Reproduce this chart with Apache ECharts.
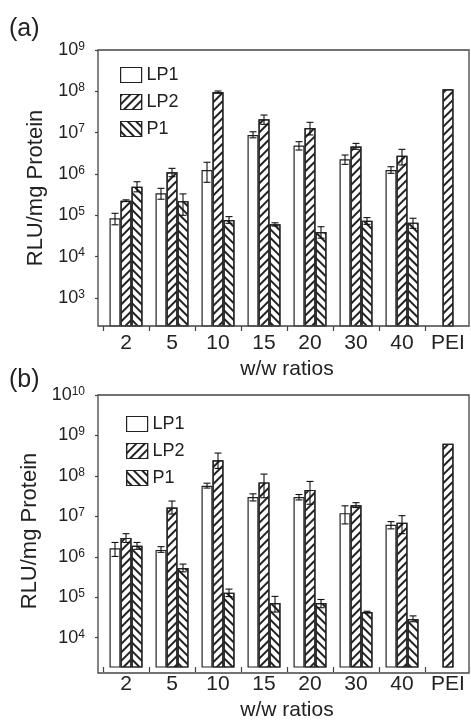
<!DOCTYPE html>
<html>
<head>
<meta charset="utf-8">
<script src="https://cdn.jsdelivr.net/npm/echarts@6/dist/echarts.min.js"></script>
<style>
  html, body { margin: 0; padding: 0; background: #fff; }
  #chart { width: 471px; height: 722px; }
</style>
</head>
<body>
<div id="chart"></div>
<script>
// w/w ratio categories
const cats = ['2', '5', '10', '15', '20', '30', '40', 'PEI'];
const names = ['LP1', 'LP2', 'P1'];

// panel (a)
const lp1A   = [8.5e4, 3.4e5, 1.25e6, 8.8e6, 4.9e6, 2.27e6, 1.25e6, null];
const lp1ALo = [5.9e4, 2.45e5, 6.3e5, 7.5e6, 3.8e6, 1.71e6, 1.04e6, null];
const lp1AHi = [1.12e5, 4.5e5, 1.92e6, 1.05e7, 6.05e6, 2.88e6, 1.5e6, null];
const lp2A   = [2.26e5, 1.1e6, 9.6e7, 2.1e7, 1.3e7, 4.6e6, 2.77e6, 1.12e8];
const lp2ALo = [2.15e5, 8.6e5, 9.0e7, 1.59e7, 8.8e6, 3.95e6, 1.65e6, null];
const lp2AHi = [2.37e5, 1.37e6, 1.02e8, 2.67e7, 1.78e7, 5.5e6, 3.95e6, null];
const p1A    = [4.93e5, 2.2e5, 7.7e4, 6.05e4, 3.95e4, 7.4e4, 6.65e4, null];
const p1ALo  = [3.7e5, 1.0e5, 6.4e4, 5.5e4, 2.8e4, 6.05e4, 4.85e4, null];
const p1AHi  = [6.5e5, 3.3e5, 9.3e4, 6.6e4, 5.3e4, 8.8e4, 8.5e4, null];

// panel (b)
const lp1B   = [1.62e6, 1.48e6, 5.7e7, 3.0e7, 3.0e7, 1.2e7, 6.2e6, null];
const lp1BLo = [1.02e6, 1.29e6, 5.0e7, 2.4e7, 2.54e7, 6.5e6, 4.9e6, null];
const lp1BHi = [2.26e6, 1.78e6, 6.6e7, 3.6e7, 3.47e7, 1.82e7, 7.4e6, null];
const lp2B   = [2.93e6, 1.65e7, 2.44e8, 6.9e7, 4.5e7, 1.88e7, 6.9e6, 6.2e8];
const lp2BLo = [2.26e6, 1.14e7, 1.53e8, 2.88e7, 1.99e7, 1.65e7, 3.73e6, null];
const lp2BHi = [3.73e6, 2.39e7, 3.67e8, 1.11e8, 7.3e7, 2.18e7, 1.04e7, null];
const p1B    = [1.88e6, 5.3e5, 1.3e5, 7.2e4, 7.2e4, 4.3e4, 2.9e4, null];
const p1BLo  = [1.53e6, 4.25e5, 1.04e5, 4.3e4, 5.5e4, 4.1e4, 2.48e4, null];
const p1BHi  = [2.26e6, 6.6e5, 1.59e5, 1.05e5, 8.8e4, 4.5e4, 3.46e4, null];

// y ranges (log) and decade ticks
const yRangeA = [210, 1e9];
const yRangeB = [1885, 1e10];
const yTicksA = [1e3, 1e4, 1e5, 1e6, 1e7, 1e8, 1e9];
const yTicksB = [1e4, 1e5, 1e6, 1e7, 1e8, 1e9, 1e10];

const FONT = '"Liberation Sans", Arial, Helvetica, sans-serif';
const INK = '#222';
const AXIS = '#444';
const BAR_W = 11;

const hatch = rot => ({
  symbol: 'rect', symbolSize: 1,
  dashArrayX: [1, 0], dashArrayY: [1.2, 3.4],
  rotation: rot, color: INK
});
const barStyles = [
  { color: '#fff', borderColor: INK, borderWidth: 1.2 },
  { color: '#fff', borderColor: INK, borderWidth: 1.2, decal: hatch(-Math.PI / 4) },
  { color: '#fff', borderColor: INK, borderWidth: 1.2, decal: hatch(Math.PI / 4) }
];

function bars(idx, vals) {
  return vals.map((v, s) => ({
    name: names[s],
    type: 'bar',
    xAxisIndex: idx, yAxisIndex: idx,
    barWidth: BAR_W, barGap: '0%',
    itemStyle: barStyles[s],
    data: v.map(d => (d == null ? '-' : d))
  }));
}

function errBars(idx, los, his) {
  const data = [];
  los.forEach((arr, s) => arr.forEach((lo, c) => {
    if (lo != null) data.push([c, s, lo, his[s][c]]);
  }));
  return {
    type: 'custom',
    xAxisIndex: idx, yAxisIndex: idx,
    z: 5, silent: true,
    encode: { x: 0, y: [2, 3] },
    data,
    renderItem(params, api) {
      const c = api.value(0), s = api.value(1);
      const lo = api.coord([c, api.value(2)]);
      const hi = api.coord([c, api.value(3)]);
      const x = lo[0] + (s - 1) * BAR_W;
      const cap = 3.5;
      const st = { stroke: '#111', lineWidth: 1.1 };
      return {
        type: 'group',
        children: [
          { type: 'line', shape: { x1: x, y1: hi[1], x2: x, y2: lo[1] }, style: st },
          { type: 'line', shape: { x1: x - cap, y1: hi[1], x2: x + cap, y2: hi[1] }, style: st },
          { type: 'line', shape: { x1: x - cap, y1: lo[1], x2: x + cap, y2: lo[1] }, style: st }
        ]
      };
    }
  };
}

function xAxis(idx) {
  return {
    type: 'category', gridIndex: idx, data: cats,
    axisLine: { show: false },
    axisTick: { show: true, interval: 0, length: 5, lineStyle: { color: AXIS, width: 1.2 } },
    axisLabel: { interval: 0, margin: 7, fontSize: 21, color: INK, fontFamily: FONT },
    name: 'w/w ratios', nameLocation: 'middle', nameGap: 33,
    nameTextStyle: { fontSize: 21, color: INK, fontFamily: FONT }
  };
}

function yAxis(idx, range, ticks) {
  return {
    type: 'log', logBase: 10, gridIndex: idx,
    min: range[0], max: range[1], offset: 5,
    axisLine: { show: false },
    splitLine: { show: false },
    axisTick: { show: true, length: 3, customValues: ticks, lineStyle: { color: AXIS, width: 1.2 } },
    axisLabel: {
      margin: 13,
      customValues: ticks,
      formatter: v => '{b|10}{s|' + Math.round(Math.log10(v)) + '}',
      rich: {
        b: { fontSize: 18, lineHeight: 19, color: INK, fontFamily: FONT },
        s: { fontSize: 12, lineHeight: 12, verticalAlign: 'top', color: INK, fontFamily: FONT }
      }
    },
    name: 'RLU/mg Protein', nameLocation: 'middle', nameGap: 47,
    nameTextStyle: { fontSize: 22, color: INK, fontFamily: FONT }
  };
}

function legend(left, top) {
  return {
    orient: 'vertical', left, top,
    itemWidth: 21, itemHeight: 15, itemGap: 9,
    icon: 'rect', data: names, selectedMode: false,
    itemStyle: { borderWidth: 1.2 },
    textStyle: { fontSize: 18, lineHeight: 15, color: INK, fontFamily: FONT }
  };
}

const chart = echarts.init(document.getElementById('chart'));
chart.setOption({
  animation: false,
  backgroundColor: '#fff',
  grid: [
    { left: 103, right: -3, top: 50, height: 276 },
    { left: 103, right: -3, top: 395, height: 278 }
  ],
  xAxis: [xAxis(0), xAxis(1)],
  yAxis: [yAxis(0, yRangeA, yTicksA), yAxis(1, yRangeB, yTicksB)],
  legend: [legend(115, 61), legend(121, 410)],
  graphic: [
    { type: 'rect', shape: { x: 98, y: 50, width: 371, height: 276 }, style: { fill: null, stroke: AXIS, lineWidth: 1.3 }, z: 10, silent: true },
    { type: 'rect', shape: { x: 98, y: 395, width: 371, height: 278 }, style: { fill: null, stroke: AXIS, lineWidth: 1.3 }, z: 10, silent: true },
    { type: 'text', left: 9, top: 17, style: { text: '(a)', fontSize: 25, fill: INK, fontFamily: FONT } },
    { type: 'text', left: 9, top: 368, style: { text: '(b)', fontSize: 25, fill: INK, fontFamily: FONT } }
  ],
  series: [
    ...bars(0, [lp1A, lp2A, p1A]),
    errBars(0, [lp1ALo, lp2ALo, p1ALo], [lp1AHi, lp2AHi, p1AHi]),
    ...bars(1, [lp1B, lp2B, p1B]),
    errBars(1, [lp1BLo, lp2BLo, p1BLo], [lp1BHi, lp2BHi, p1BHi])
  ]
});
</script>
</body>
</html>
